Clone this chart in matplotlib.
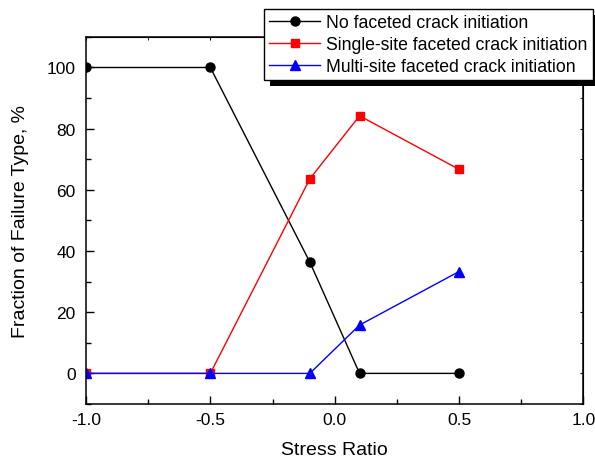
import matplotlib
matplotlib.use('Agg')
import matplotlib.pyplot as plt
from matplotlib.patches import Rectangle
from matplotlib.ticker import MultipleLocator, FormatStrFormatter

plt.rcParams['font.family'] = ['Liberation Sans', 'DejaVu Sans']

# Dữ liệu
stress_ratio = [-1.0, -0.5, -0.1, 0.1, 0.5]
no_faceted = [100, 100, 36.4, 0, 0]
single_site = [0, 0, 63.6, 84.2, 66.7]
multi_site = [0, 0, 0, 15.8, 33.3]

fig = plt.figure(figsize=(5.95, 4.6), dpi=100)
ax = fig.add_axes([0.1445, 0.1196, 0.836, 0.798])

ax.plot(stress_ratio, no_faceted, color='black', marker='o', markersize=6.5, lw=1.0,
        label='No faceted crack initiation')
ax.plot(stress_ratio, single_site, color='red', marker='s', markersize=5.5, lw=1.0,
        label='Single-site faceted crack initiation')
ax.plot(stress_ratio, multi_site, color='blue', marker='^', markersize=7, lw=1.0,
        label='Multi-site faceted crack initiation')

ax.set_xlim(-1.0, 1.0)
ax.set_ylim(-10, 110)
ax.xaxis.set_major_locator(MultipleLocator(0.5))
ax.xaxis.set_minor_locator(MultipleLocator(0.25))
ax.xaxis.set_major_formatter(FormatStrFormatter('%.1f'))
ax.yaxis.set_major_locator(MultipleLocator(20))
ax.yaxis.set_minor_locator(MultipleLocator(10))
ax.tick_params(which='major', direction='in', length=6, width=1, labelsize=12.5)
ax.tick_params(axis='y', which='major', pad=7.5)
ax.tick_params(axis='x', which='major', pad=6)
ax.tick_params(which='minor', direction='in', length=3.5, width=1)
ax.tick_params(which='both', top=False, right=False)
for s in ax.spines.values():
    s.set_linewidth(1.1)

# tick nhỏ ở trục trên và phải
sec_x = ax.secondary_xaxis('top')
sec_x.xaxis.set_major_locator(MultipleLocator(0.5))
sec_x.xaxis.set_minor_locator(MultipleLocator(0.25))
sec_x.tick_params(which='both', direction='in', length=2, labeltop=False)
sec_y = ax.secondary_yaxis('right')
sec_y.yaxis.set_major_locator(MultipleLocator(20))
sec_y.yaxis.set_minor_locator(MultipleLocator(10))
sec_y.tick_params(which='both', direction='in', length=2, labelright=False)

ax.set_xlabel('Stress Ratio', fontsize=14, labelpad=9.5)
ax.set_ylabel('Fraction of Failure Type, %', fontsize=14, labelpad=13)

leg = fig.legend(loc='upper left', bbox_to_anchor=(0.444, 0.979), fontsize=12.7,
                 frameon=True, fancybox=False, edgecolor='black', framealpha=1,
                 borderpad=0.3, labelspacing=0.28, handlelength=2.85, handletextpad=0.35,
                 borderaxespad=0)
leg.get_frame().set_linewidth(1.0)
leg.set_zorder(10)

# Bóng đen của chú thích
fig.canvas.draw()
bb = leg.get_window_extent().transformed(fig.transFigure.inverted())
off_x, off_y = 6 / 595, 6 / 460
shadow = Rectangle((bb.x0 + off_x, bb.y0 - off_y), bb.width, bb.height,
                   transform=fig.transFigure, facecolor='black', edgecolor='none', zorder=9)
fig.patches.append(shadow)

fig.savefig('out.png', dpi=100)
